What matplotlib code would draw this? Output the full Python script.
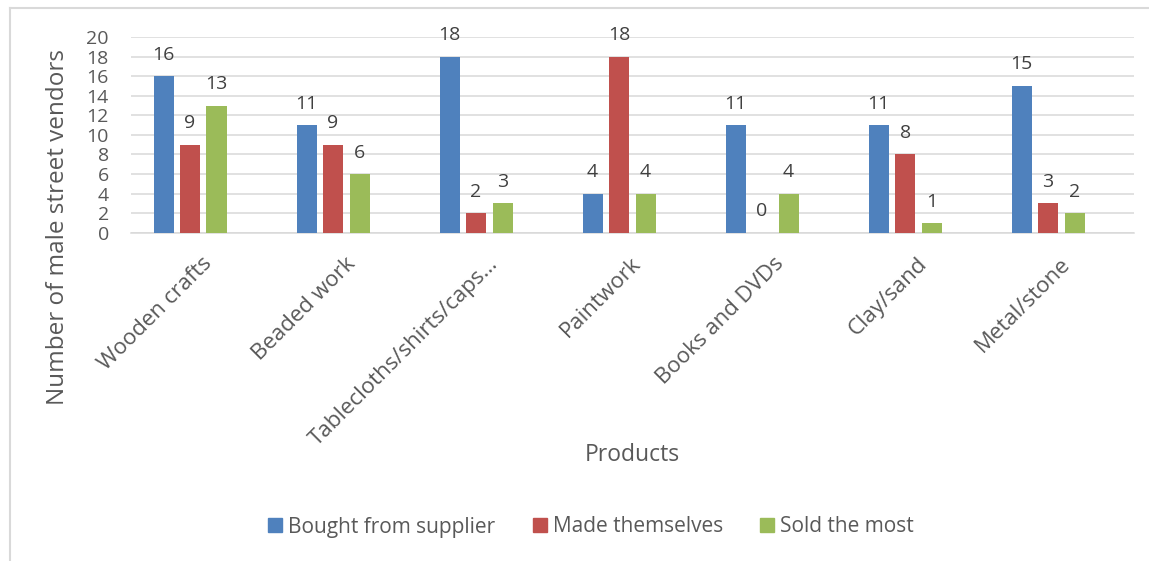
import matplotlib.pyplot as plt
from matplotlib.lines import Line2D
from matplotlib.patches import Patch
from matplotlib.transforms import ScaledTranslation

products = ["Wooden crafts", "Beaded work", "Tablecloths/shirts/caps\u2026",
            "Paintwork", "Books and DVDs", "Clay/sand", "Metal/stone"]
bought = [16, 11, 18, 4, 11, 11, 15]
made = [9, 9, 2, 18, 0, 8, 3]
sold = [13, 6, 3, 4, 4, 1, 2]

series = [
    ("Bought from supplier", bought, "#4F81BD"),
    ("Made themselves", made, "#C0504D"),
    ("Sold the most", sold, "#9BBB59"),
]

plt.rcParams["font.family"] = ["Open Sans", "DejaVu Sans"]
text_color = "#595959"
grid_color = "#D9D9D9"

fig = plt.figure(figsize=(11.49, 5.61), dpi=100)
ax = fig.add_axes([0.114, 0.585, 0.873, 0.349])

x = list(range(len(products)))
width = 0.14
step = 0.185
for i, (name, vals, color) in enumerate(series):
    pos = [xi + (i - 1) * step for xi in x]
    bars = ax.bar(pos, vals, width, color=color, label=name, zorder=3)
    for b, v in zip(bars, vals):
        ax.annotate(str(v), (b.get_x() + b.get_width() / 2, v),
                    xytext=(0, 9), textcoords="offset points",
                    ha="center", va="bottom", fontsize=14, color="#404040")

ax.set_xlim(-0.413, 6.601)
ax.set_ylim(0, 20)
ax.set_yticks(range(0, 21, 2))
ax.yaxis.grid(True, color=grid_color, linewidth=1.1, zorder=0)
ax.set_axisbelow(True)
for s in ["top", "right", "left"]:
    ax.spines[s].set_visible(False)
ax.spines["bottom"].set_color(grid_color)
ax.spines["bottom"].set_linewidth(1.1)
ax.tick_params(axis="y", length=0, labelsize=14, labelcolor=text_color, pad=16)
ax.tick_params(axis="x", length=0, labelsize=16, labelcolor=text_color, pad=20)
ax.set_xticks(x)
ax.set_xticklabels(products, rotation=45, ha="right", va="center",
                   rotation_mode="anchor")
# nudge the slanted category labels to the right of each group centre
shift = ScaledTranslation(0.19, 0, fig.dpi_scale_trans)
for lbl in ax.get_xticklabels():
    lbl.set_transform(lbl.get_transform() + shift)

fig.text(58 / 1149, 1 - 227 / 561, "Number of male street vendors", rotation=90,
         ha="center", va="center", fontsize=17.5, color=text_color)
fig.text(632 / 1149, 1 - 455 / 561, "Products", ha="center", va="center",
         fontsize=16.5, color=text_color)

handles = [Patch(color=c, label=n) for n, _, c in series]
fig.legend(handles=handles, loc="center", bbox_to_anchor=(591 / 1149, 1 - 527 / 561),
           ncol=3, frameon=False, fontsize=15, handlelength=0.67, handleheight=0.67,
           handletextpad=0.29, columnspacing=1.78, labelcolor=text_color,
           borderpad=0, borderaxespad=0)

# light frame around the chart area
fig.add_artist(Line2D([10 / 1149, 1], [1 - 8 / 561, 1 - 8 / 561],
                      color=grid_color, linewidth=1.5))
fig.add_artist(Line2D([10 / 1149, 10 / 1149], [0, 1 - 8 / 561],
                      color=grid_color, linewidth=1.5))

fig.savefig("out.png", dpi=100)
